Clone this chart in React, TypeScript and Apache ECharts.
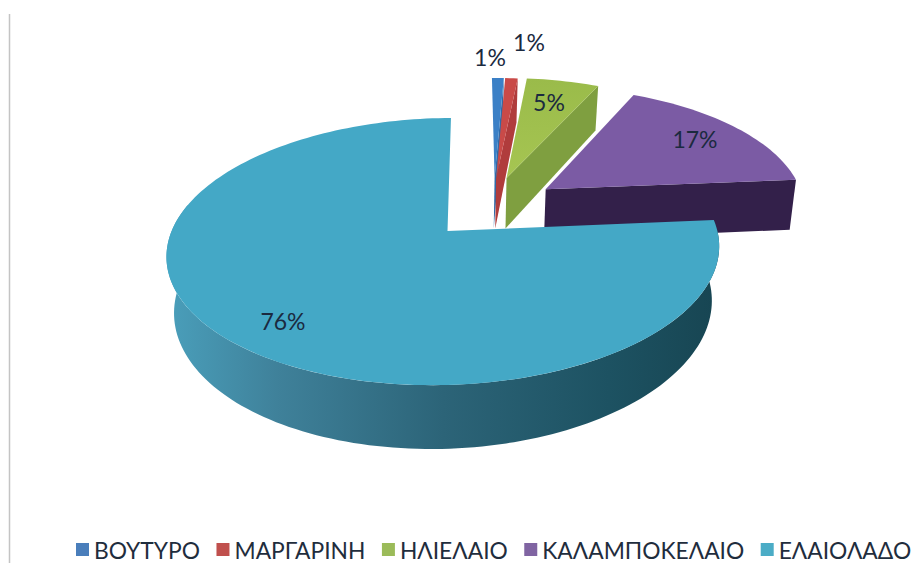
import React, { useEffect, useRef } from "react";
import * as echarts from "echarts";

const categories = ["ΒΟΥΤΥΡΟ", "ΜΑΡΓΑΡΙΝΗ", "ΗΛΙΕΛΑΙΟ", "ΚΑΛΑΜΠΟΚΕΛΑΙΟ", "ΕΛΑΙΟΛΑΔΟ"];
const shares = [0.85, 0.9, 5.25, 17, 76];
const legendColors = ["#4a7ebb", "#c0504d", "#9bbb59", "#8064a2", "#4bacc6"];
const topColors = ["#3b80c6", "#c94a48", "#9dbf4b", "#7b5ba4", "#44a8c6"];
const wallColors = ["#2f6ba8", "#b03c3c", "#7f9f40", "#33204a", "#2c6478"];
const explodeX = [0.178, 0.184, 0.225, 0.375, 0];
const explodeY = [-0.43, -0.43, -0.43, -0.33, 0];
const labelX = [490, 529, 549, 695, 283];
const labelY = [57, 42, 102, 139, 321];

const CX = 447.5, CY = 231, A = 273, B = 130.4, K = 0.1536, J = 0.0145, S = -4, T = -3;
const WALL = 54;
const FONT = "Lato, 'Open Sans', sans-serif";

function project(theta: number, r: number, ex: number, ey: number, lower: boolean): number[] {
  const rad = (theta * Math.PI) / 180;
  const X = r * Math.sin(rad) + ex;
  const Y = -r * Math.cos(rad) + ey;
  const den = 1 - K * Y + J * X;
  let px = CX + (A * X + S * Y) / den;
  let py = CY + (B * Y + T * X) / den;
  if (lower) {
    const shrink = ex === 0 ? 0.973 : 0.982;
    px = CX + (px - CX) * shrink;
    py += WALL / den;
  }
  return [px, py];
}

function rim(from: number, to: number, ex: number, ey: number, lower: boolean): number[][] {
  const out: number[][] = [];
  const n = Math.max(2, Math.ceil(Math.abs(to - from) / 1.5));
  for (let i = 0; i <= n; i++) out.push(project(from + ((to - from) * i) / n, 1, ex, ey, lower));
  return out;
}

const total = shares.reduce((p, c) => p + c, 0);

function makeRenderItem(index: number) {
  return (_params: any, api: any) => {
    const value = api.value(0);
    let start = 0;
    for (let i = 0; i < index; i++) start += (shares[i] / total) * 360;
    const end = start + (value / total) * 360;
    const ex = explodeX[index], ey = explodeY[index];
    const children: any[] = [];
    const apexTop = project(0, 0, ex, ey, false);
    const apexLow = project(0, 0, ex, ey, true);
    if (index === 4) {
      const upper = rim(start, 283, ex, ey, false);
      const lower = rim(283, start, ex, ey, true);
      children.push({
        type: "polygon",
        shape: { points: upper.concat(lower) },
        style: {
          fill: new echarts.graphic.LinearGradient(0, 0, 1, 0, [
            { offset: 0, color: "#4a9fbb" },
            { offset: 0.2, color: "#3f819a" },
            { offset: 0.5, color: "#2c6478" },
            { offset: 0.8, color: "#1d5262" },
            { offset: 1, color: "#174552" },
          ]),
        },
      });
    } else {
      const endTop = project(end, 1, ex, ey, false);
      const endLow = project(end, 1, ex, ey, true);
      children.push({
        type: "polygon",
        shape: { points: [apexTop, endTop, endLow, apexLow] },
        style: { fill: wallColors[index] },
      });
    }
    children.push({
      type: "polygon",
      shape: { points: [apexTop].concat(rim(start, end, ex, ey, false)) },
      style: {
        fill:
          index === 2
            ? new echarts.graphic.LinearGradient(0, 0, 0, 1, [
                { offset: 0, color: "#9abb4a" },
                { offset: 1, color: "#a6c552" },
              ])
            : topColors[index],
      },
    });
    children.push({
      type: "text",
      x: labelX[index],
      y: labelY[index],
      style: {
        text: `${Math.round(value)}%`,
        font: `23px ${FONT}`,
        fill: "#1b2a3f",
        textAlign: "center",
        textVerticalAlign: "middle",
      },
    });
    return { type: "group", children };
  };
}

export default function App() {
  const ref = useRef<HTMLDivElement>(null);
  useEffect(() => {
    const chart = echarts.init(ref.current!, undefined, { renderer: "svg" });
    chart.setOption({
      animation: false,
      backgroundColor: "#ffffff",
      legend: {
        left: 76,
        top: 538,
        width: 841,
        padding: 0,
        data: categories,
        icon: "rect",
        itemWidth: 13,
        itemHeight: 13,
        itemGap: 16.5,
        textStyle: { fontFamily: FONT, fontSize: 22.8, lineHeight: 22, color: "#1f2d3d", padding: 0 },
      },
      graphic: [
        { type: "line", shape: { x1: 9.5, y1: 14, x2: 9.5, y2: 563 }, style: { stroke: "#c4c4c4", lineWidth: 1.5 } },
      ],
      series: categories.map((name, i) => ({
        type: "custom",
        name,
        coordinateSystem: "none",
        renderItem: makeRenderItem(i),
        itemStyle: { color: legendColors[i] },
        data: [[shares[i]]],
        z: 2 + i,
      })),
    });
    return () => chart.dispose();
  }, []);
  return <div ref={ref} style={{ position: "fixed", left: 0, top: 0, width: 917, height: 563 }} />;
}
